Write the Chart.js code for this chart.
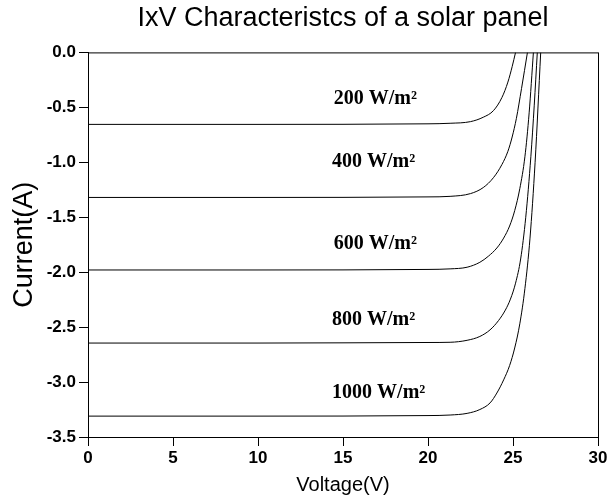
<!DOCTYPE html>
<html>
<head>
<meta charset="utf-8">
<script src="https://cdn.jsdelivr.net/npm/chart.js@4"></script>
<style>
  html, body { margin: 0; padding: 0; background: #fff; }
  #wrap { width: 610px; height: 497px; }
</style>
</head>
<body>
<div id="wrap"><canvas id="chart"></canvas></div>
<script>
// Irradiance levels (curve names)
const irradiance = ["200 W/m²", "400 W/m²", "600 W/m²", "800 W/m²", "1000 W/m²"];

// Voltage / current points
const v200 = [0, 10, 20, 21.3, 22.5, 23.25, 23.85, 24.35, 24.7, 24.95, 25.15];
const i200 = [-0.655, -0.655, -0.65, -0.645, -0.63, -0.59, -0.53, -0.41, -0.27, -0.13, 0];

const v400 = [0, 10, 20, 21.3, 22.5, 23.25, 23.85, 24.35, 24.7, 24.95, 25.2, 25.5, 25.85];
const i400 = [-1.32, -1.32, -1.315, -1.31, -1.285, -1.23, -1.14, -1.02, -0.9, -0.77, -0.6, -0.33, 0];

const v600 = [0, 10, 20, 21.3, 22.3, 23.05, 23.55, 24.05, 24.45, 24.8, 25.1, 25.4, 25.7, 25.95, 26.2];
const i600 = [-1.98, -1.98, -1.975, -1.97, -1.955, -1.91, -1.855, -1.78, -1.69, -1.58, -1.44, -1.24, -0.95, -0.55, 0];

const v800 = [0, 10, 20, 21.3, 22.3, 23.05, 23.65, 24.15, 24.55, 24.85, 25.15, 25.45, 25.75, 26.05, 26.25, 26.43];
const i800 = [-2.645, -2.645, -2.64, -2.638, -2.62, -2.585, -2.525, -2.44, -2.345, -2.245, -2.1, -1.88, -1.5, -0.95, -0.48, 0];

const v1000 = [0, 10, 20, 21.3, 22.3, 23.05, 23.65, 24.05, 24.45, 24.8, 25.1, 25.4, 25.7, 26.0, 26.3, 26.63];
const i1000 = [-3.31, -3.31, -3.305, -3.3, -3.285, -3.25, -3.19, -3.1, -2.98, -2.85, -2.69, -2.47, -2.15, -1.69, -1.0, 0];

// Where each curve label sits (volts, amps)
const labelV = [16.9, 16.8, 16.9, 16.8, 17.1];
const labelI = [-0.42, -1.0, -1.745, -2.435, -3.1];

const curves = [[v200, i200], [v400, i400], [v600, i600], [v800, i800], [v1000, i1000]];

const datasets = curves.map(([vs, is], k) => ({
  label: irradiance[k],
  data: vs.map((v, j) => ({ x: v, y: is[j] })),
  borderColor: "#000",
  borderWidth: 1,
  pointRadius: 0,
  fill: false,
  cubicInterpolationMode: "monotone",
}));

// Frame around the plot area + curve labels
const framePlugin = {
  id: "frame",
  afterDraw(chart) {
    const { ctx, chartArea: a, scales } = chart;
    ctx.save();
    ctx.strokeStyle = "#000";
    ctx.lineWidth = 1;
    ctx.strokeRect(a.left + 0.5, a.top + 0.5, a.right - a.left, a.bottom - a.top);
    ctx.fillStyle = "#000";
    ctx.font = "bold 20px 'Liberation Serif', 'Times New Roman', serif";
    ctx.textAlign = "center";
    ctx.textBaseline = "middle";
    irradiance.forEach((txt, k) => {
      ctx.fillText(txt, scales.x.getPixelForValue(labelV[k]), scales.y.getPixelForValue(labelI[k]));
    });
    ctx.restore();
  }
};

const tickFont = { family: "'Liberation Sans', Arial, sans-serif", size: 17, weight: "bold" };

new Chart(document.getElementById("chart"), {
  type: "line",
  data: { datasets },
  options: {
    responsive: true,
    maintainAspectRatio: false,
    animation: false,
    layout: { padding: { left: 8, right: 12, top: 0, bottom: 0 } },
    plugins: {
      legend: { display: false },
      tooltip: { enabled: false },
      title: {
        display: true,
        text: "IxV Characteristcs of a solar panel",
        color: "#000",
        fullSize: false,
        font: { family: "'Liberation Sans', Arial, sans-serif", size: 27, weight: "normal" },
        padding: { top: 2, bottom: 18 },
      },
    },
    scales: {
      x: {
        type: "linear",
        min: 0,
        max: 30,
        ticks: { stepSize: 5, color: "#000", font: tickFont, padding: 2, maxRotation: 0 },
        grid: { drawOnChartArea: false, color: "#000", tickLength: 9 },
        border: { color: "#000" },
        title: {
          display: true,
          text: "Voltage(V)",
          color: "#000",
          font: { family: "'Liberation Sans', Arial, sans-serif", size: 20 },
          padding: { top: 1, bottom: 0 },
        },
        afterFit(scale) { scale.height = 60; },
      },
      y: {
        min: -3.5,
        max: 0,
        ticks: {
          stepSize: 0.5,
          color: "#000",
          font: tickFont,
          padding: 3,
          callback: v => Number(v).toFixed(1),
        },
        grid: { drawOnChartArea: false, color: "#000", tickLength: 9 },
        border: { color: "#000" },
        title: {
          display: true,
          text: "Current(A)",
          color: "#000",
          font: { family: "'Liberation Sans', Arial, sans-serif", size: 27 },
          padding: { top: 0, bottom: 2 },
        },
        afterFit(scale) { scale.width = 80; },
      },
    },
  },
  plugins: [framePlugin],
});
</script>
</body>
</html>
